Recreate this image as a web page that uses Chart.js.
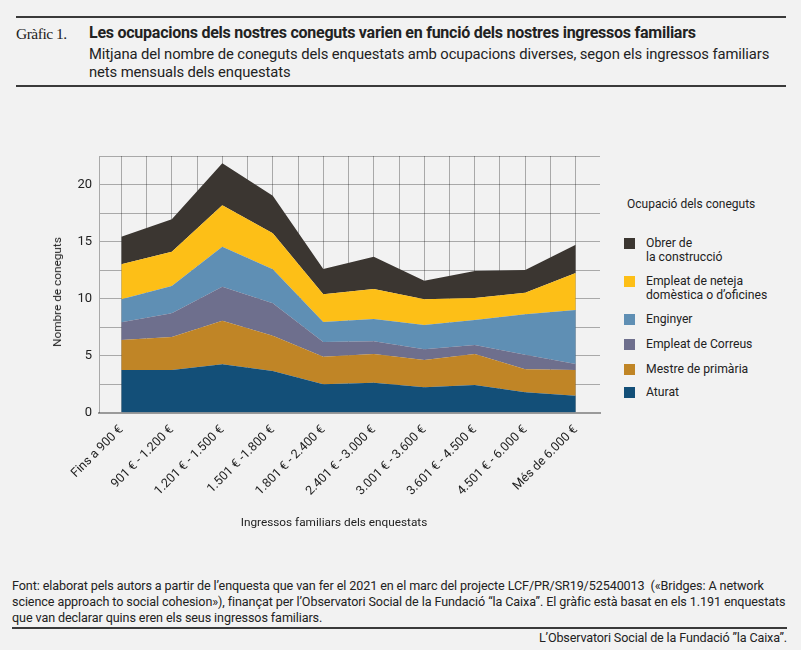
<!DOCTYPE html>
<html>
<head>
<meta charset="utf-8">
<script src="https://cdn.jsdelivr.net/npm/chart.js@4.4.1/dist/chart.umd.min.js"></script>
<style>
  body { margin: 0; background: #f2f2f2; font-family: Roboto, sans-serif; color: #222; }
  #page { position: relative; width: 801px; height: 650px; overflow: hidden; }
  .rule { position: absolute; left: 16px; width: 770px; height: 2px; background: #3a3a3a; }
  .abs { position: absolute; white-space: nowrap; }
  #num { left: 16px; top: 25px; font-family: "Liberation Serif", serif; font-size: 15.5px; letter-spacing: -0.5px; }
  #title { left: 89px; top: 23px; font-size: 16px; font-weight: bold; letter-spacing: -0.25px; }
  #sub { left: 89px; top: 45px; font-size: 14.8px; line-height: 18px; letter-spacing: -0.1px; }
  #chartbox { position: absolute; left: 0; top: 140px; width: 610px; height: 400px; }
  #ytitle { left: 57px; top: 292px; font-size: 11.8px; transform: translate(-50%, -50%) rotate(-90deg); }
  #xtitle { left: 334px; top: 522px; font-size: 11.8px; transform: translate(-50%, -50%); }
  #legtitle { left: 627px; top: 197px; font-size: 12px; }
  .leg { position: absolute; left: 624px; font-size: 12.2px; line-height: 14px; }
  .leg span { position: absolute; left: 0; width: 11px; height: 11px; }
  .leg div { position: absolute; left: 22px; top: -2px; white-space: nowrap; }
  #foot { left: 12px; top: 578px; font-size: 12.6px; line-height: 16px; letter-spacing: -0.1px; }
  #org { right: 14px; top: 630px; font-size: 12.6px; letter-spacing: -0.15px; }
</style>
</head>
<body>
<div id="page">
  <div class="rule" style="top:16px"></div>
  <div class="abs" id="num">Gràfic 1.</div>
  <div class="abs" id="title">Les ocupacions dels nostres coneguts varien en funció dels nostres ingressos familiars</div>
  <div class="abs" id="sub">Mitjana del nombre de coneguts dels enquestats amb ocupacions diverses, segon els ingressos familiars<br>nets mensuals dels enquestats</div>
  <div class="rule" style="top:85px"></div>

  <div id="chartbox"><canvas id="myChart"></canvas></div>
  <div class="abs" id="ytitle">Nombre de coneguts</div>
  <div class="abs" id="xtitle">Ingressos familiars dels enquestats</div>
  <div class="abs" id="legtitle">Ocupació dels coneguts</div>
  <div id="legend"></div>

  <div class="abs" id="foot">Font: elaborat pels autors a partir de l’enquesta que van fer el 2021 en el marc del projecte LCF/PR/SR19/52540013 &nbsp;(«Bridges: A network<br>science approach to social cohesion»), finançat per l’Observatori Social de la Fundació “la Caixa”. El gràfic està basat en els 1.191 enquestats<br>que van declarar quins eren els seus ingressos familiars.</div>
  <div class="rule" style="top:627px; left:12px; width:775px"></div>
  <div class="abs" id="org">L’Observatori Social de la Fundació ”la Caixa”.</div>
</div>

<script>
// income brackets (x axis)
const categories = ['Fins a 900 €', '901 € - 1.200 €', '1.201 € - 1.500 €', '1.501 € -1.800 €', '1.801 € - 2.400 €',
    '2.401 € - 3.000 €', '3.001 € - 3.600 €', '3.601 € - 4.500 €', '4.501 € - 6.000 €', 'Més de 6.000 €'];

// mean number of acquaintances per occupation (stacked, bottom first)
const aturat    = [3.73, 3.73, 4.23, 3.64, 2.47, 2.61, 2.21, 2.41, 1.77, 1.47];
const mestre    = [2.63, 2.89, 3.82, 3.10, 2.43, 2.52, 2.39, 2.72, 2.02, 2.26];
const correus   = [1.55, 2.08, 2.99, 2.84, 1.28, 1.11, 0.94, 0.79, 1.28, 0.52];
const enginyer  = [2.02, 2.40, 3.51, 2.98, 1.76, 1.96, 2.14, 2.19, 3.54, 4.74];
const neteja    = [3.07, 3.00, 3.62, 3.16, 2.43, 2.63, 2.25, 1.93, 1.90, 3.25];
const obrer     = [2.42, 2.85, 3.69, 3.30, 2.22, 2.84, 1.63, 2.37, 1.99, 2.48];

const yTicks = [0, 5, 10, 15, 20];

const series = [
    { label: ['Aturat'], data: aturat, color: '#134f78' },
    { label: ['Mestre de primària'], data: mestre, color: '#c08526' },
    { label: ['Empleat de Correus'], data: correus, color: '#6e6f8d' },
    { label: ['Enginyer'], data: enginyer, color: '#5f8fb4' },
    { label: ['Empleat de neteja', 'domèstica o d’oficines'], data: neteja, color: '#fdbf17' },
    { label: ['Obrer de', 'la construcció'], data: obrer, color: '#3b3631' }
];

// legend (top to bottom = last series first)
const legendTops = [387, 364, 339, 314, 276, 238];
let legHtml = '';
series.forEach(function (s, i) {
    legHtml += '<div class="leg" style="top:' + legendTops[i] + 'px"><span style="background:' + s.color + '"></span>' +
        '<div>' + s.label.join('<br>') + '</div></div>';
});
document.getElementById('legend').innerHTML = legHtml;

const ctx = document.getElementById('myChart');

new Chart(ctx, {
    type: 'line',
    data: {
        datasets: series.map(function (s, i) {
            return {
                label: s.label.join(' '),
                data: s.data.map((v, j) => ({ x: j, y: v })),
                backgroundColor: s.color,
                borderWidth: 0,
                pointRadius: 0,
                tension: 0,
                fill: i === 0 ? 'origin' : '-1'
            };
        })
    },
    options: {
        responsive: true,
        maintainAspectRatio: false,
        animation: false,
        layout: { padding: { top: 16, right: 10, left: 0, bottom: 0 } },
        plugins: { legend: { display: false }, tooltip: { enabled: false } },
        scales: {
            x: {
                type: 'linear',
                min: -0.442,
                max: 9.481,
                afterBuildTicks: function (scale) {
                    let t = [];
                    for (let v = 0; v <= 9; v += 0.5) t.push({ value: v });
                    scale.ticks = t;
                },
                afterFit: function (scale) { scale.height = 127.5; },
                grid: { color: 'rgba(0,0,0,0.3)', drawTicks: false },
                border: { display: true, color: '#9a9a9a', width: 2 },
                ticks: {
                    autoSkip: false,
                    maxRotation: 45,
                    minRotation: 45,
                    padding: 10,
                    color: '#222',
                    font: { family: 'Roboto', size: 12.5 },
                    callback: function (v) { return Number.isInteger(v) ? categories[v] : ''; }
                }
            },
            y: {
                stacked: true,
                min: 0,
                max: 22.5,
                afterBuildTicks: function (scale) {
                    let t = [];
                    for (let v = 0; v <= 22.5; v += 2.5) t.push({ value: v });
                    scale.ticks = t;
                },
                afterFit: function (scale) { scale.width = 99; },
                grid: { color: 'rgba(0,0,0,0.3)', drawTicks: false },
                border: { display: true, color: 'rgba(0,0,0,0.3)' },
                ticks: {
                    padding: 7,
                    color: '#222',
                    font: { family: 'Roboto', size: 13 },
                    callback: function (v) { return yTicks.includes(v) ? v : ''; }
                }
            }
        }
    }
});
</script>
</body>
</html>
